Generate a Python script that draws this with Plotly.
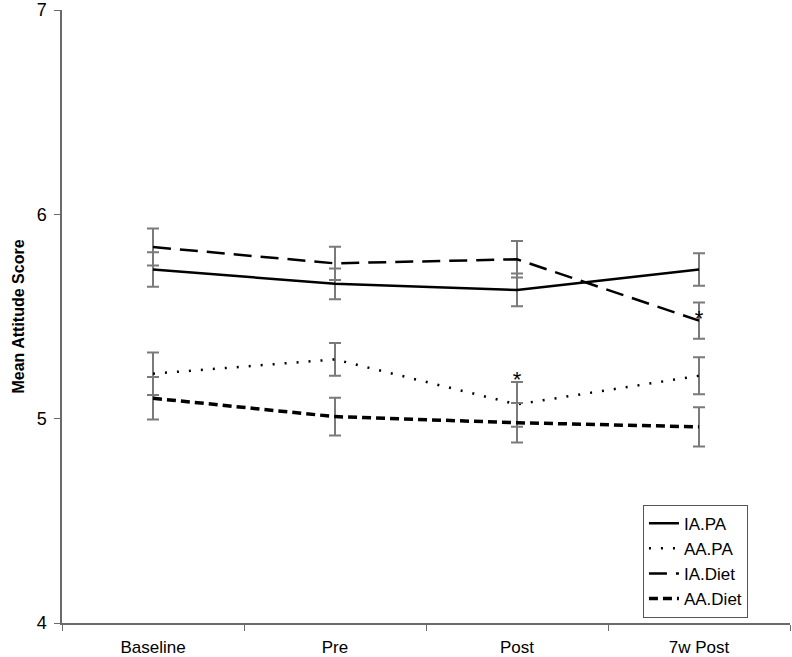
import plotly.graph_objects as go

# ── Data ──────────────────────────────────────────────────────────────────────
timepoints = ["Baseline", "Pre", "Post", "7w Post"]

ia_pa      = [5.73, 5.66, 5.63, 5.73]
ia_pa_err  = [0.085, 0.075, 0.080, 0.080]

aa_pa      = [5.22, 5.29, 5.07, 5.21]
aa_pa_err  = [0.104, 0.080, 0.110, 0.091]

ia_diet     = [5.84, 5.76, 5.78, 5.48]
ia_diet_err = [0.091, 0.081, 0.089, 0.089]

aa_diet     = [5.10, 5.01, 4.98, 4.96]
aa_diet_err = [0.104, 0.092, 0.097, 0.096]

# significance markers
sig_x = ["Post", "7w Post"]
sig_y = [5.18, 5.48]

ERR_COLOR  = "#7a7a7a"
AXIS_COLOR = "#6a6a6a"

series = [
    ("IA.PA",   ia_pa,   ia_pa_err,   dict(color="black", width=2.5, dash="solid")),
    ("AA.PA",   aa_pa,   aa_pa_err,   dict(color="black", width=2.5, dash="2px,10px")),
    ("IA.Diet", ia_diet, ia_diet_err, dict(color="black", width=2.5, dash="18px,9px")),
    ("AA.Diet", aa_diet, aa_diet_err, dict(color="black", width=3.5, dash="9px,5px")),
]

fig = go.Figure()

for name, vals, errs, line in series:
    fig.add_trace(go.Scatter(
        x          = timepoints,
        y          = vals,
        name       = name,
        mode       = "lines",
        line       = line,
        error_y    = dict(type="data", array=errs, visible=True,
                          color=ERR_COLOR, thickness=2, width=6),
    ))

fig.add_trace(go.Scatter(
    x            = sig_x,
    y            = sig_y,
    mode         = "text",
    text         = ["*"] * len(sig_x),
    textposition = "middle center",
    textfont     = dict(size=22, color="black", family="Liberation Sans"),
    showlegend   = False,
    hoverinfo    = "skip",
))

fig.update_layout(
    width        = 792,
    height       = 657,
    margin       = dict(l=62, r=2, t=10, b=34),
    paper_bgcolor= "white",
    plot_bgcolor = "white",
    font         = dict(family="Liberation Sans, Arial, sans-serif", color="black"),
    showlegend   = True,
    legend       = dict(
        x           = 0.798,
        y           = 0.193,
        xanchor     = "left",
        yanchor     = "top",
        bordercolor = "#555555",
        borderwidth = 1,
        bgcolor     = "white",
        font        = dict(size=17),
        tracegroupgap = 0,
    ),
)

fig.update_xaxes(
    type              = "category",
    range             = [-0.5, 3.5],
    automargin        = False,
    showline          = True,
    linecolor         = AXIS_COLOR,
    linewidth         = 1.5,
    showgrid          = False,
    ticks             = "outside",
    tickson           = "boundaries",
    ticklen           = 6,
    tickcolor         = AXIS_COLOR,
    ticklabelstandoff = 8,
    ticklabeloverflow = "allow",
    tickfont          = dict(size=17),
)

fig.update_yaxes(
    range             = [4, 7],
    dtick             = 1,
    automargin        = False,
    showline          = True,
    linecolor         = AXIS_COLOR,
    linewidth         = 1.5,
    showgrid          = False,
    zeroline          = False,
    ticks             = "outside",
    ticklen           = 6,
    tickcolor         = AXIS_COLOR,
    ticklabelstandoff = 4,
    ticklabeloverflow = "allow",
    tickfont          = dict(size=18),
    title             = dict(text="<b>Mean Attitude Score</b>", font=dict(size=16), standoff=8),
)

# drop the browser's default body margin so the figure sits at the page corner
fig.write_html(
    "out.html",
    config      = {"displayModeBar": False},
    post_script = "document.body.style.margin = '0px';",
)
